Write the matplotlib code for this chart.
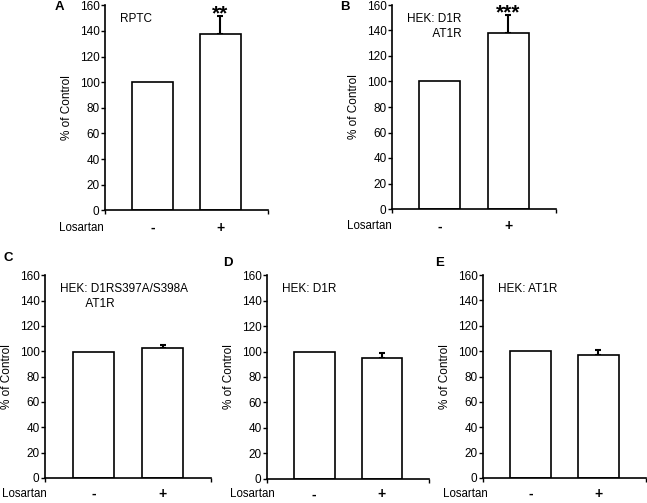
import matplotlib.pyplot as plt

plt.rcParams['font.family'] = ['Liberation Sans', 'DejaVu Sans']

# data (% of control)
groups = ["-", "+"]
letters = ["A", "B", "C", "D", "E"]
labels = ["RPTC", "HEK: D1R\n        AT1R", "HEK: D1RS397A/S398A\n        AT1R", "HEK: D1R", "HEK: AT1R"]
vals_A = [100, 137.5]
err_A = [0, 14]
vals_B = [100, 138]
err_B = [0, 14]
vals_C = [99.5, 102.5]
err_C = [0, 2.5]
vals_D = [100, 95]
err_D = [0, 4]
vals_E = [100, 97]
err_E = [0, 4]
stars = ["**", "***", "", "", ""]

W, H = 647, 503
fig = plt.figure(figsize=(6.47, 5.03), dpi=100)

# axes boxes in pixels: left, right, top, bottom
boxes = [(105, 268, 5.3, 210.3),
         (392, 556, 5, 209),
         (45, 211, 275.3, 478),
         (267, 429, 275.3, 478.5),
         (483, 646, 275, 478)]
letter_pos = [(59, 7), (345, 7), (8, 258), (228, 263), (440, 263)]
losartan_x = [59, 347, 2, 230, 443]
label_off = [-12.5, -12.5, -11.5, -11.5, -11.5]

all_vals = [vals_A, vals_B, vals_C, vals_D, vals_E]
all_errs = [err_A, err_B, err_C, err_D, err_E]

for i in range(5):
    l, r, t, b = boxes[i]
    ax = fig.add_axes([l / W, (H - b) / H, (r - l) / W, (b - t) / H])
    x = [0, 1]
    ax.bar(x, all_vals[i], width=0.6, color='white', edgecolor='black', linewidth=1.2, zorder=2)
    ax.errorbar(x[1], all_vals[i][1], yerr=[[0], [all_errs[i][1]]], fmt='none',
                ecolor='black', elinewidth=1.5, capsize=2.5, capthick=1.5, zorder=1)
    if stars[i]:
        ax.text(x[1], all_vals[i][1] + all_errs[i][1] + 9.5, stars[i], ha='center', va='top',
                fontsize=15, fontweight='bold', clip_on=False)
    ax.set_xlim(-0.7, 1.7)
    ax.set_ylim(0, 160)
    ax.set_yticks(range(0, 161, 20))
    ax.tick_params(axis='y', labelsize=8.5, length=3, width=1, pad=1)
    ax.set_xticks([-0.7, 1.7])
    ax.set_xticklabels([])
    ax.tick_params(axis='x', length=3, width=1)
    ax.spines['top'].set_visible(False)
    ax.spines['right'].set_visible(False)
    for s in ['left', 'bottom']:
        ax.spines[s].set_linewidth(1.2)
    ax.set_ylabel("% of Control", fontsize=8.5, labelpad=5)
    for xi, g in zip(x, groups):
        ax.annotate(g, xy=(xi, 0), xytext=(0, label_off[i]), textcoords='offset points',
                    ha='center', va='center', fontsize=10, fontweight='bold')
    ax.annotate("Losartan", xy=(losartan_x[i] / W, 0),
                xycoords=('figure fraction', 'axes fraction'), xytext=(0, label_off[i]),
                textcoords='offset points', ha='left', va='center', fontsize=8.3)
    ax.text(0.09, 0.96, labels[i], transform=ax.transAxes, ha='left', va='top',
            fontsize=8.5, linespacing=1.3)
    lx, ly = letter_pos[i]
    fig.text(lx / W, 1 - ly / H, letters[i], ha='center', va='center',
             fontsize=9.5, fontweight='bold')

fig.savefig("out.png", dpi=100)
